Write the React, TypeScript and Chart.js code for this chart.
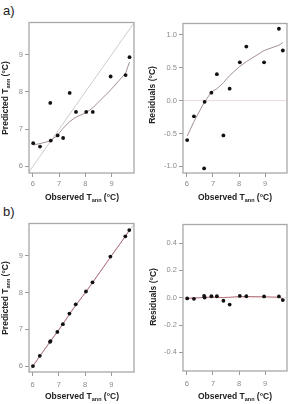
import React, { useEffect, useRef } from "react";
import { Chart, registerables } from "chart.js";
Chart.register(...registerables);

// ---- data ----
const observed = [6.01, 6.27, 6.66, 6.68, 6.94, 7.15, 7.4, 7.64, 8.03, 8.28, 8.96, 9.53, 9.68];
const predictedA = [6.62, 6.53, 7.7, 6.69, 6.83, 6.76, 7.97, 7.46, 7.46, 7.46, 8.41, 8.45, 8.93];
const smoothA = [6.57, 6.61, 6.68, 6.69, 6.84, 7.02, 7.2, 7.32, 7.44, 7.57, 8.05, 8.5, 8.8];
const residualsA = [-0.6, -0.24, -1.03, -0.02, 0.12, 0.4, -0.53, 0.18, 0.58, 0.82, 0.58, 1.09, 0.76];
const smoothResA = [-0.54, -0.32, -0.03, -0.02, 0.13, 0.18, 0.27, 0.38, 0.52, 0.59, 0.76, 0.84, 0.88];
const predictedB = [6.0, 6.28, 6.66, 6.68, 6.93, 7.14, 7.43, 7.68, 8.03, 8.28, 8.98, 9.53, 9.7];
const smoothB = [6.0, 6.27, 6.66, 6.68, 6.93, 7.14, 7.42, 7.66, 8.02, 8.27, 8.96, 9.53, 9.69];
const residualsB = [-0.005, -0.008, 0.013, 0.002, 0.011, 0.011, -0.022, -0.05, 0.013, 0.011, 0.01, 0.01, -0.017];
const smoothResB = [-0.005, -0.003, 0.003, 0.003, 0.004, 0.003, 0.002, 0.004, 0.009, 0.009, 0.007, 0.004, -0.008];
const identityRange = [5, 11];
const xTicks = [6, 7, 8, 9];
const yTicksPred = [6, 7, 8, 9];
const yTicksResA = [-1, -0.5, 0, 0.5, 1];
const yTicksResB = [-0.4, -0.2, 0, 0.2, 0.4];

const pts = (xs: number[], ys: number[]) => xs.map((x, i) => ({ x, y: ys[i] }));

const FONT = '"Liberation Sans", Arial, sans-serif';
const POINT = "#111";
const SMOOTH_A = "#a48e9c";
const SMOOTH_B = "#b5707c";

type PanelProps = {
  box: [number, number, number, number];
  xMin: number; xMax: number; yMin: number; yMax: number;
  yTicks: number[];
  yFmt: (v: number) => string;
  datasets: any[];
  xPad?: number;
};

const frame = {
  id: "frame",
  afterDraw(chart: any) {
    const { ctx, chartArea: a } = chart;
    ctx.save();
    ctx.strokeStyle = "#a8a8a8";
    ctx.lineWidth = 1.3;
    ctx.strokeRect(a.left, a.top, a.right - a.left, a.bottom - a.top);
    ctx.restore();
  },
};

function Panel({ box, xMin, xMax, yMin, yMax, yTicks, yFmt, datasets, xPad = 2 }: PanelProps) {
  const ref = useRef<HTMLCanvasElement>(null);
  const [l, t, r, b] = box;
  const yW = 30, padT = 2, padR = 3, xH = 20;
  const w = r - l + yW + padR;
  const h = b - t + padT + xH;
  useEffect(() => {
    const axisCommon = {
      type: "linear",
      grid: { display: true, drawOnChartArea: false, drawTicks: true, tickLength: 4, color: "#999", lineWidth: 1 },
      border: { display: false },
    };
    const chart = new Chart(ref.current!, {
      type: "scatter",
      data: { datasets },
      options: {
        animation: false,
        responsive: false,
        devicePixelRatio: 1,
        layout: { padding: { top: padT, right: padR, left: 0, bottom: 0 } },
        plugins: { legend: { display: false }, tooltip: { enabled: false } },
        scales: {
          x: {
            ...axisCommon,
            min: xMin, max: xMax,
            afterFit: (s: any) => { s.height = xH; },
            afterBuildTicks: (s: any) => { s.ticks = xTicks.map((v) => ({ value: v })); },
            ticks: { font: { family: FONT, size: 7.5 }, color: "#8a8a8a", padding: xPad, maxRotation: 0 },
          },
          y: {
            ...axisCommon,
            min: yMin, max: yMax,
            afterFit: (s: any) => { s.width = yW; },
            afterBuildTicks: (s: any) => { s.ticks = yTicks.map((v) => ({ value: v })); },
            ticks: { font: { family: FONT, size: 7.5 }, color: "#8a8a8a", padding: 2, callback: (v: any) => yFmt(Number(v)) },
          },
        } as any,
      },
      plugins: [frame],
    } as any);
    return () => chart.destroy();
  }, []);
  return (
    <canvas
      ref={ref}
      width={w}
      height={h}
      style={{ position: "absolute", left: l - yW, top: t - padT, width: w, height: h }}
    />
  );
}

const titleFont: React.CSSProperties = {
  position: "absolute",
  font: `bold 8.5px ${FONT}`,
  color: "#222",
  whiteSpace: "nowrap",
  lineHeight: "10px",
};
const subStyle: React.CSSProperties = { fontSize: "5.5px", verticalAlign: "-2px" };

function XTitle({ cx, cy }: { cx: number; cy: number }) {
  return (
    <div style={{ ...titleFont, left: cx, top: cy, transform: "translate(-50%, -50%)" }}>
      Observed T<span style={subStyle}>ann</span> (°C)
    </div>
  );
}
function YTitle({ cx, cy, children }: { cx: number; cy: number; children: any }) {
  return (
    <div style={{ ...titleFont, left: cx, top: cy, transform: "translate(-50%, -50%) rotate(-90deg)" }}>
      {children}
    </div>
  );
}

const scatterSet = (ys: number[]) => ({
  type: "scatter",
  data: pts(observed, ys),
  pointRadius: 1.9,
  pointBackgroundColor: POINT,
  pointBorderWidth: 0,
  order: 0,
});
const lineSet = (ys: number[], color: string, width = 1) => ({
  type: "line",
  data: pts(observed, ys),
  showLine: true,
  borderColor: color,
  borderWidth: width,
  pointRadius: 0,
  tension: 0,
  fill: false,
  order: 1,
});
const refSet = (data: { x: number; y: number }[], color: string) => ({
  type: "line",
  data,
  showLine: true,
  borderColor: color,
  borderWidth: 0.9,
  pointRadius: 0,
  fill: false,
  order: 2,
});

export default function App() {
  const fmt0 = (v: number) => String(v);
  const fmt1 = (v: number) => v.toFixed(1);
  return (
    <div style={{ position: "absolute", left: 0, top: 0, width: 293, height: 404, background: "#fff", overflow: "hidden" }}>
      <div style={{ position: "absolute", left: 3, top: 3, font: `13px ${FONT}`, color: "#222" }}>a)</div>
      <div style={{ position: "absolute", left: 3, top: 204, font: `13px ${FONT}`, color: "#222" }}>b)</div>

      <Panel
        box={[29, 18, 135, 173]}
        xMin={5.85} xMax={9.85} yMin={5.82} yMax={9.86}
        yTicks={yTicksPred} yFmt={fmt0}
        datasets={[
          refSet(identityRange.map((v) => ({ x: v, y: v })), "#c6c6c6"),
          lineSet(smoothA, SMOOTH_A),
          scatterSet(predictedA),
        ]}
      />
      <Panel
        box={[183, 19, 288, 173]}
        xMin={5.85} xMax={9.84} yMin={-1.1} yMax={1.17}
        yTicks={yTicksResA} yFmt={fmt1}
        datasets={[
          refSet(identityRange.map((v) => ({ x: v, y: 0 })), "#e6d8d8"),
          lineSet(smoothResA, SMOOTH_A),
          scatterSet(residualsA),
        ]}
      />
      <Panel
        box={[29, 219, 135, 372]}
        xMin={5.86} xMax={9.86} yMin={5.84} yMax={9.88}
        yTicks={yTicksPred} yFmt={fmt0} xPad={4}
        datasets={[
          refSet(identityRange.map((v) => ({ x: v, y: v })), "#c6c6c6"),
          lineSet(smoothB, SMOOTH_B),
          scatterSet(predictedB),
        ]}
      />
      <Panel
        box={[183, 220, 288, 371]}
        xMin={5.85} xMax={9.84} yMin={-0.536} yMax={0.536}
        yTicks={yTicksResB} yFmt={fmt1} xPad={4}
        datasets={[
          refSet(identityRange.map((v) => ({ x: v, y: 0 })), "#e6d8d8"),
          lineSet(smoothResB, SMOOTH_B),
          scatterSet(residualsB),
        ]}
      />

      <XTitle cx={82} cy={198} />
      <XTitle cx={235} cy={198} />
      <XTitle cx={82} cy={397} />
      <XTitle cx={235} cy={397} />
      <YTitle cx={6} cy={98}>Predicted T<span style={subStyle}>ann</span> (°C)</YTitle>
      <YTitle cx={152} cy={95}>Residuals (°C)</YTitle>
      <YTitle cx={6} cy={298}>Predicted T<span style={subStyle}>ann</span> (°C)</YTitle>
      <YTitle cx={153} cy={297}>Residuals (°C)</YTitle>
    </div>
  );
}
